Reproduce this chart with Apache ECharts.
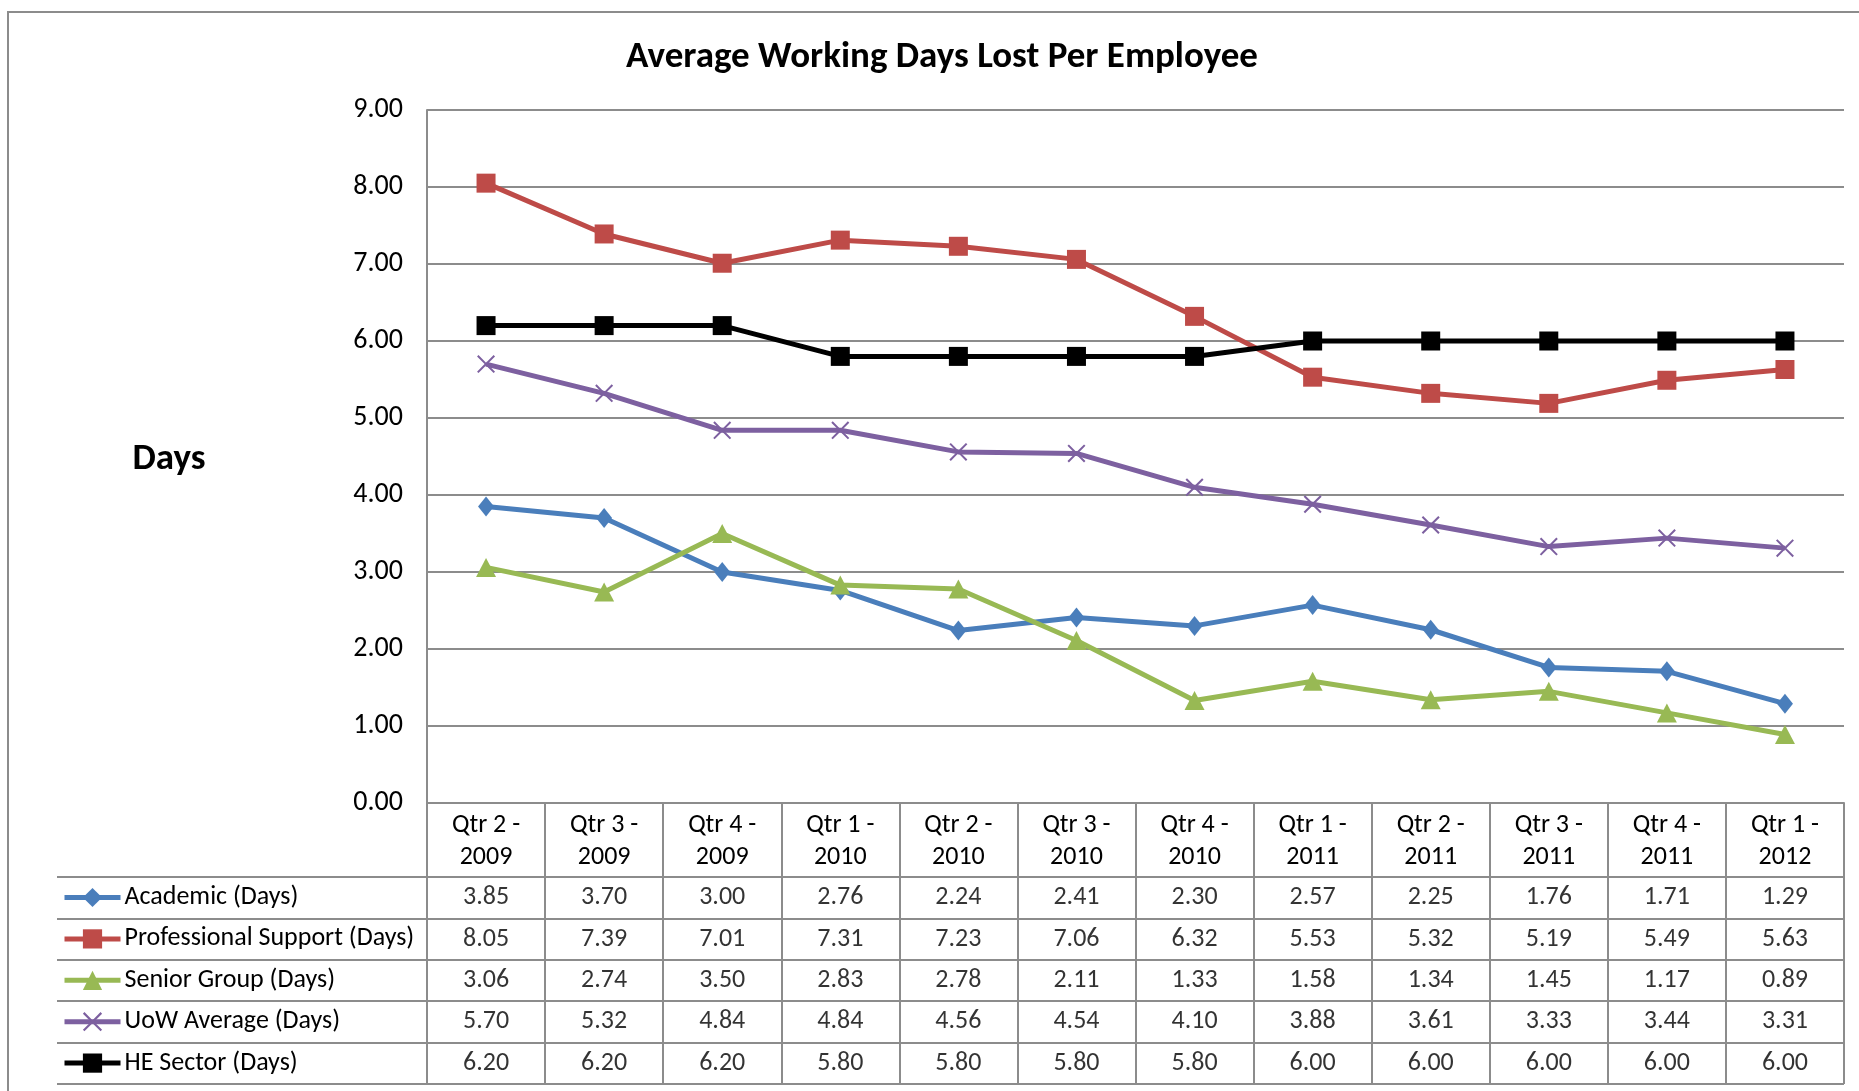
<!DOCTYPE html>
<html>
<head>
<meta charset="utf-8">
<script src="https://cdn.jsdelivr.net/npm/echarts@6/dist/echarts.min.js"></script>
<style>
html, body { margin: 0; padding: 0; background: #fff; }
#chart { width: 1859px; height: 1091px; }
</style>
</head>
<body>
<div id="chart"></div>
<script>
// quarters along the x axis
var quarters = ['Qtr 2 - 2009', 'Qtr 3 - 2009', 'Qtr 4 - 2009', 'Qtr 1 - 2010', 'Qtr 2 - 2010', 'Qtr 3 - 2010',
  'Qtr 4 - 2010', 'Qtr 1 - 2011', 'Qtr 2 - 2011', 'Qtr 3 - 2011', 'Qtr 4 - 2011', 'Qtr 1 - 2012'];

var academic = [3.85, 3.70, 3.00, 2.76, 2.24, 2.41, 2.30, 2.57, 2.25, 1.76, 1.71, 1.29];
var profSupport = [8.05, 7.39, 7.01, 7.31, 7.23, 7.06, 6.32, 5.53, 5.32, 5.19, 5.49, 5.63];
var seniorGroup = [3.06, 2.74, 3.50, 2.83, 2.78, 2.11, 1.33, 1.58, 1.34, 1.45, 1.17, 0.89];
var uowAverage = [5.70, 5.32, 4.84, 4.84, 4.56, 4.54, 4.10, 3.88, 3.61, 3.33, 3.44, 3.31];
var heSector = [6.20, 6.20, 6.20, 5.80, 5.80, 5.80, 5.80, 6.00, 6.00, 6.00, 6.00, 6.00];

var seriesNames = ['Academic (Days)', 'Professional Support (Days)', 'Senior Group (Days)', 'UoW Average (Days)', 'HE Sector (Days)'];
var yTicks = [0, 1, 2, 3, 4, 5, 6, 7, 8, 9];

var FONT = "Carlito, 'Open Sans', sans-serif";
var GRID_GREY = '#8c8c8c';
var TXT = 26;

var chart = echarts.init(document.getElementById('chart'));

var rows = [academic, profSupport, seniorGroup, uowAverage, heSector];
// cells of the data table: [column, row, value]
var cells = [];
for (var r = 0; r < rows.length; r++) {
  for (var c = 0; c < quarters.length; c++) {
    cells.push([c, r, rows[r][c]]);
  }
}

var crossPath = 'path://M0,1.6L1.6,0L10,8.4L18.4,0L20,1.6L11.6,10L20,18.4L18.4,20L10,11.6L1.6,20L0,18.4L8.4,10Z';

function lineSeries(name, data, color, symbol, size) {
  return {
    name: name,
    type: 'line',
    xAxisIndex: 0,
    yAxisIndex: 0,
    data: data,
    symbol: symbol,
    symbolSize: size,
    showAllSymbol: true,
    lineStyle: { color: color, width: 5 },
    itemStyle: { color: color, opacity: 1 },
    emphasis: { disabled: true },
    animation: false
  };
}

var option = {
  animation: false,
  textStyle: { fontFamily: FONT, color: '#000' },
  graphic: [
    { type: 'rect', shape: { x: 8, y: 12, width: 1900, height: 1200 }, style: { fill: 'none', stroke: '#8c8c8c', lineWidth: 2 }, silent: true },
    { type: 'text', x: 942, y: 58, style: { text: 'Average Working Days Lost Per Employee', fontFamily: FONT, fontSize: 37, fontWeight: 'bold', fill: '#000', textAlign: 'center', textVerticalAlign: 'middle' } },
    { type: 'text', x: 169, y: 460, style: { text: 'Days', fontFamily: FONT, fontSize: 37, fontWeight: 'bold', fill: '#000', textAlign: 'center', textVerticalAlign: 'middle' } }
  ],
  legend: {
    orient: 'vertical',
    left: 62,
    top: 884.5,
    padding: 0,
    itemWidth: 56,
    itemHeight: 24,
    itemGap: 15.4,
    selectedMode: false,
    data: seriesNames,
    lineStyle: { width: 5 },
    textStyle: { fontFamily: FONT, fontSize: TXT, color: '#000', lineHeight: 26, padding: [0, 0, 0, -1] }
  },
  grid: [
    { left: 427, top: 110, width: 1417, height: 693 },
    { left: 427, top: 877, width: 1417, height: 207 }
  ],
  xAxis: [
    {
      gridIndex: 0,
      type: 'category',
      data: quarters,
      boundaryGap: true,
      axisLine: { show: true, lineStyle: { color: GRID_GREY, width: 2 } },
      axisTick: { show: true, interval: 0, length: 74, lineStyle: { color: GRID_GREY, width: 2 } },
      axisLabel: {
        interval: 0,
        margin: 6,
        fontFamily: FONT,
        fontSize: TXT,
        lineHeight: 32,
        color: '#000',
        formatter: function (v) { return v.replace(' - ', ' -\n'); }
      },
      splitLine: { show: false }
    },
    {
      gridIndex: 1,
      type: 'category',
      position: 'top',
      data: quarters,
      axisLine: { show: true, lineStyle: { color: GRID_GREY, width: 2 } },
      axisTick: { show: false },
      axisLabel: { show: false },
      splitLine: { show: true, interval: 0, lineStyle: { color: GRID_GREY, width: 2 } }
    }
  ],
  yAxis: [
    {
      gridIndex: 0,
      type: 'value',
      min: yTicks[0],
      max: yTicks[yTicks.length - 1],
      interval: 1,
      axisLine: { show: true, lineStyle: { color: GRID_GREY, width: 2 } },
      axisTick: { show: false },
      axisLabel: {
        margin: 24,
        fontFamily: FONT,
        fontSize: 28,
        color: '#000',
        formatter: function (v) { return v.toFixed(2); }
      },
      splitLine: { show: true, lineStyle: { color: GRID_GREY, width: 2 } }
    },
    {
      gridIndex: 1,
      type: 'category',
      data: seriesNames,
      inverse: true,
      axisLine: { show: true, lineStyle: { color: GRID_GREY, width: 2 } },
      axisTick: { show: true, interval: 0, length: 370, lineStyle: { color: GRID_GREY, width: 2 } },
      axisLabel: { show: false },
      splitLine: { show: true, interval: 0, lineStyle: { color: GRID_GREY, width: 2 } }
    },
    {
      gridIndex: 1,
      type: 'category',
      data: seriesNames,
      inverse: true,
      offset: 370,
      axisLine: { show: true, lineStyle: { color: GRID_GREY, width: 2 } },
      axisTick: { show: false },
      axisLabel: { show: false },
      splitLine: { show: false }
    }
  ],
  series: [
    lineSeries(seriesNames[0], academic, '#4A7EBB', 'diamond', [16, 20]),
    lineSeries(seriesNames[1], profSupport, '#BE4B48', 'rect', 19),
    lineSeries(seriesNames[2], seniorGroup, '#98B954', 'triangle', [20, 19]),
    lineSeries(seriesNames[3], uowAverage, '#7D60A0', crossPath, 18),
    lineSeries(seriesNames[4], heSector, '#000000', 'rect', 19),
    {
      name: 'table',
      type: 'scatter',
      xAxisIndex: 1,
      yAxisIndex: 1,
      data: cells,
      symbolSize: 0,
      silent: true,
      label: {
        show: true,
        position: 'inside',
        fontFamily: FONT,
        fontSize: TXT,
        color: '#000',
        formatter: function (p) { return p.value[2].toFixed(2); }
      }
    }
  ]
};

chart.setOption(option);
window.addEventListener('resize', function () { chart.resize(); });
</script>
</body>
</html>
